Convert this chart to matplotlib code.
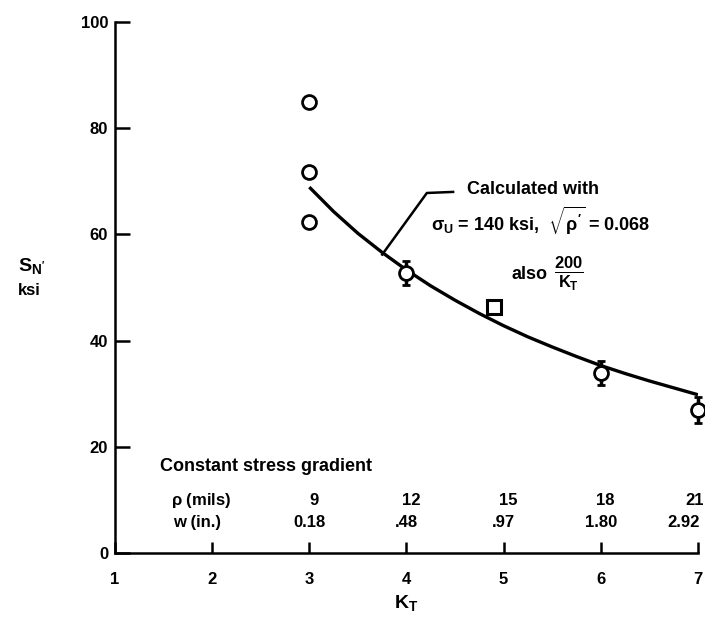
import matplotlib
matplotlib.use("Agg")
import matplotlib.pyplot as plt

FONT = ["Liberation Sans", "DejaVu Sans"]
plt.rcParams["font.family"] = FONT
plt.rcParams["font.weight"] = "bold"
plt.rcParams["mathtext.fontset"] = "custom"
plt.rcParams["mathtext.rm"] = "Liberation Sans:bold"
plt.rcParams["mathtext.it"] = "Liberation Sans:bold"
plt.rcParams["mathtext.bf"] = "Liberation Sans:bold"

# Test data: notched specimens
kt_circles = [3, 3, 3, 4, 6, 7]
sn_circles = [85.0, 71.8, 62.3, 52.7, 33.9, 26.9]
sn_err = [0, 0, 0, 2.3, 2.2, 2.4]
kt_square = [4.9]
sn_square = [46.3]

# Calculated curve (sigma_u = 140 ksi, sqrt(rho') = 0.068)
kt_calc = [3.0, 3.25, 3.5, 3.75, 4.0, 4.25, 4.5, 4.75, 5.0,
           5.25, 5.5, 5.75, 6.0, 6.25, 6.5, 6.75, 7.0]
sn_calc = [68.9, 64.3, 60.2, 56.6, 53.3, 50.3, 47.6, 45.1, 42.8,
           40.7, 38.8, 37.0, 35.3, 33.8, 32.4, 31.1, 29.8]

# Constant stress gradient table
kt_table = [3, 4, 5, 6, 7]
rho_mils = ["9", "12", "15", "18", "21"]
w_in = ["0.18", ".48", ".97", "1.80", "2.92"]

x_ticks = [1, 2, 3, 4, 5, 6, 7]
y_ticks = [0, 20, 40, 60, 80, 100]

fig = plt.figure(figsize=(7.05, 6.18), dpi=100)
ax = fig.add_axes([0.1631, 0.1052, 0.8269, 0.8592])
ax.set_xlim(1, 7)
ax.set_ylim(0, 100)

for side in ("top", "right"):
    ax.spines[side].set_visible(False)
for side in ("left", "bottom"):
    ax.spines[side].set_linewidth(1.8)

ax.set_xticks(x_ticks)
ax.set_yticks(y_ticks)
ax.tick_params(axis="y", direction="in", length=11, width=1.8, labelsize=12, pad=5)
ax.tick_params(axis="x", direction="in", length=8, width=1.8, labelsize=12, pad=14)
for lbl in ax.get_xticklabels() + ax.get_yticklabels():
    lbl.set_fontweight("bold")

ax.plot(kt_calc, sn_calc, color="black", lw=2.4, solid_capstyle="butt", zorder=2)

ax.errorbar(kt_circles, sn_circles, yerr=sn_err, fmt="o", ms=10, mfc="white",
            mec="black", mew=2.0, ecolor="black", elinewidth=2.5, capsize=3,
            capthick=2.5, clip_on=False, zorder=3)
ax.plot(kt_square, sn_square, "s", ms=10, mfc="white", mec="black", mew=2.2,
        zorder=3)

# Leader from the curve to the annotation
ax.plot([3.75, 4.21, 4.48], [56.2, 67.8, 68.0], color="black", lw=1.8, zorder=2)

ax.text(4.62, 68.4, "Calculated with", fontsize=13, fontweight="bold",
        ha="left", va="center")
ax.text(4.25, 62.5, r"$\sigma_U$ = 140 ksi,  $\sqrt{\rho^{\prime}}$ = 0.068",
        fontsize=13, fontweight="bold", ha="left", va="center")
ax.text(5.08, 52.5, "also", fontsize=13, fontweight="bold", ha="left", va="center")
ax.text(5.52, 52.5, r"$\frac{200}{K_T}$", fontsize=17, ha="left", va="center")

# Table along the bottom of the plot
ax.text(1.46, 16.2, "Constant stress gradient", fontsize=13, fontweight="bold",
        ha="left", va="center")
ax.text(1.58, 9.8, r"$\rho$ (mils)", fontsize=12, fontweight="bold",
        ha="left", va="center")
ax.text(1.60, 5.8, "w (in.)", fontsize=12, fontweight="bold",
        ha="left", va="center")
for k, r, w in zip(kt_table, rho_mils, w_in):
    if k == kt_table[-1]:
        ax.text(k + 0.06, 9.8, r, fontsize=12, fontweight="bold", ha="right",
                va="center", clip_on=False)
        ax.text(k + 0.02, 5.8, w, fontsize=12, fontweight="bold", ha="right",
                va="center", clip_on=False)
    else:
        ax.text(k + 0.05, 9.8, r, fontsize=12, fontweight="bold", ha="center",
                va="center", clip_on=False)
        ax.text(k, 5.8, w, fontsize=12, fontweight="bold", ha="center",
                va="center", clip_on=False)

ax.set_xlabel(r"$K_T$", fontsize=14, labelpad=4)
fig.text(0.045, 0.570, r"$S_{N'}$", fontsize=14, ha="center", va="center")
fig.text(0.042, 0.530, "ksi", fontsize=12, fontweight="bold", ha="center",
         va="center")

fig.savefig("out.png", dpi=100)
